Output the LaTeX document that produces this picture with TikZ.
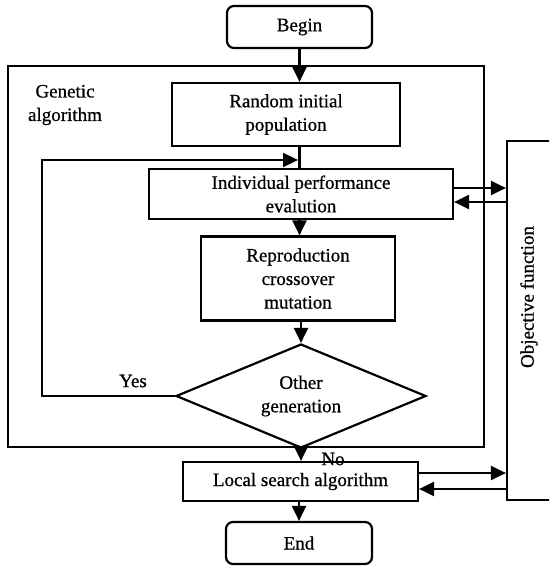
\documentclass[tikz,border=0pt]{standalone}
\usepackage{fontspec}
\setmainfont{Liberation Serif}[FakeBold=0.7]
\usetikzlibrary{arrows.meta,shapes.geometric,calc}
\begin{document}
\begin{tikzpicture}[x=1pt,y=-1pt,
  every node/.style={font=\fontsize{19}{23.5}\selectfont, inner sep=0pt, align=center},
  box/.style={draw, line width=2.2pt, rectangle},
  rbox/.style={box, rounded corners=7pt},
  arr/.style={line width=2.2pt, -{Triangle[length=15pt,width=14pt]}},
  ln/.style={line width=2.2pt}]
\useasboundingbox (0,0) rectangle (549,567);
\clip (0,0) rectangle (549,567);
% outer GA frame
\node[box, minimum width=476pt, minimum height=381pt] (ga) at (246,256.5) {};
\node (galbl) at (65,105) {Genetic\\algorithm};
% main flow
\node[rbox, minimum width=145pt, minimum height=42pt] (beg) at (299.5,27) {Begin};
\node[box, minimum width=228pt, minimum height=63pt] (rnd) at (286,114.5) {Random initial\\population};
\node[box, minimum width=304pt, minimum height=50pt] (ind) at (301,194) {Individual performance\\evalution};
\node[box, minimum width=194pt, minimum height=84pt] (rep) at (298,278.5) {Reproduction\\crossover\\mutation};
\node[draw, line width=2.2pt, diamond, shape aspect=2.4, minimum width=250pt, minimum height=104pt] (dia) at (301,396) {Other\\generation};
\node[box, minimum width=235pt, minimum height=39pt] (loc) at (300.5,481.5) {Local search algorithm};
\node[rbox, minimum width=146pt, minimum height=42pt] (end) at (299,543) {End};
% objective function
\node[box, minimum width=90pt, minimum height=359pt] (obj) at (552,320.5) {};
\node[rotate=90] (objlbl) at (529,297) {Objective function};
% labels
\node (yes) at (133,381) {Yes};
\node (no) at (333,459) {No};
% connectors
\draw[arr] (beg.south) -- (beg.south |- rnd.north);
\draw[ln] (rnd.south -| beg.south) -- (ind.north -| beg.south);
\draw[arr] (ind.south -| beg.south) -- (rep.north -| beg.south);
\draw[arr] (rep.south -| dia.north) -- (dia.north);
\draw[arr] (dia.south) -- (dia.south |- loc.north);
\draw[arr] (loc.south -| end.north) -- (end.north);
\coordinate (loopc) at (42,160);
\coordinate (looptip) at (298,160);
\draw[arr] (dia.west) -| (loopc) -- (looptip);
\draw[arr] ([yshift=6pt]ind.east) -- ([yshift=6pt]ind.east -| obj.west);
\draw[arr] ([yshift=-8pt]ind.east -| obj.west) -- ([yshift=-8pt]ind.east);
\draw[arr] ([yshift=8.5pt]loc.east) -- ([yshift=8.5pt]loc.east -| obj.west);
\draw[arr] ([yshift=-7.5pt]loc.east -| obj.west) -- ([yshift=-7.5pt]loc.east);
\end{tikzpicture}
\end{document}
